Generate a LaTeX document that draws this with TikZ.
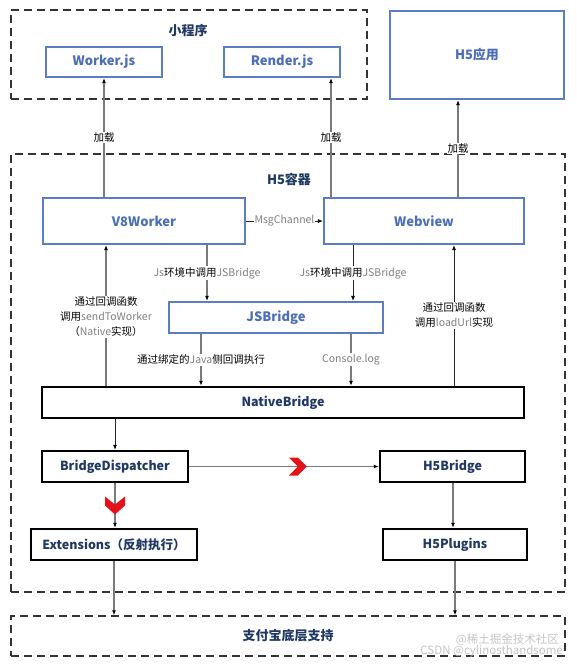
\documentclass[tikz,border=0pt]{standalone}
\usepackage{fontspec}
\setmainfont{Noto Sans CJK SC}
\usetikzlibrary{arrows.meta,calc}
\definecolor{bluebd}{HTML}{5B7DC4}
\definecolor{bluetx}{HTML}{4C6EB8}
\definecolor{navy}{HTML}{1F3864}
\definecolor{lgray}{HTML}{7A7A7A}
\definecolor{ltext}{HTML}{7F7F7F}
\definecolor{chevred}{HTML}{E3131A}
\definecolor{dashc}{HTML}{333333}
\definecolor{wmark}{HTML}{C4C4C4}
\newcommand\gtx[1]{\textcolor{ltext}{#1}}
\begin{document}
\begin{tikzpicture}[x=1pt,y=-1pt,
 bluebox/.style={draw=bluebd, line width=2.2pt, fill=white, text=bluetx, font=\bfseries\fontsize{13}{15}\selectfont, inner sep=0pt},
 blackbox/.style={draw=black, line width=2.4pt, fill=white, text=navy, font=\bfseries\fontsize{12.5}{15}\selectfont, inner sep=0pt},
 dashbox/.style={draw=dashc, line width=1.4pt, dash pattern=on 8pt off 5pt, inner sep=0pt},
 titlelbl/.style={text=navy, font=\bfseries\fontsize{13}{15}\selectfont},
 lbl/.style={fill=white, inner sep=1pt, font=\fontsize{10.5}{15}\selectfont, text=black, align=center},
 conn/.style={draw=lgray, line width=1.3pt, -{Latex[length=5pt,width=4pt,black]}},
 thinconn/.style={draw=black!85, line width=0.8pt, -{Latex[length=5pt,width=4pt,black]}},
 wm/.style={text=wmark, font=\fontsize{11.5}{13}\selectfont, inner sep=0pt},
 chevR/.pic={\fill[chevred] (-9,-9) -- (0,-9) -- (9,0) -- (0,9) -- (-9,9) -- (0,0) -- cycle;},
 chevD/.pic={\fill[chevred] (-10,-9) -- (0,-1) -- (10,-9) -- (10,0) -- (0,9) -- (-10,0) -- cycle;},
]
\useasboundingbox (0,0) rectangle (577,667);

% containers
\node[dashbox, minimum width=356pt, minimum height=89pt] (mini) at (189,54.5) {};
\node[titlelbl] (minit) at (188,31) {小程序};
\node[dashbox, minimum width=554pt, minimum height=438pt] (h5c) at (288,373) {};
\node[titlelbl] (h5ct) at (289,179) {H5容器};
\node[dashbox, minimum width=554pt, minimum height=40pt, text=navy, font=\bfseries\fontsize{13}{15}\selectfont] (alipay) at (288,636) {支付宝底层支持};

% boxes
\node[bluebox, minimum width=116pt, minimum height=30pt] (worker) at (104,62) {Worker.js};
\node[bluebox, minimum width=116pt, minimum height=30pt] (render) at (282,62) {Render.js};
\node[bluebox, minimum width=174pt, minimum height=88pt] (h5app) at (477,55) {H5应用};
\node[bluebox, minimum width=202pt, minimum height=46pt] (v8) at (144,221) {V8Worker};
\node[bluebox, minimum width=200pt, minimum height=46pt] (webview) at (424,221) {Webview};
\node[bluebox, minimum width=214pt, minimum height=31pt] (jsb) at (276,317.5) {JSBridge};
\node[blackbox, minimum width=482pt, minimum height=31pt] (native) at (283,402.5) {NativeBridge};
\node[blackbox, minimum width=146pt, minimum height=31pt] (bd) at (115,466.5) {BridgeDispatcher};
\node[blackbox, minimum width=145pt, minimum height=31pt] (h5b) at (452.5,466.5) {H5Bridge};
\node[blackbox, minimum width=166pt, minimum height=31pt] (ext) at (114,544.5) {Extensions（反射执行）};
\node[blackbox, minimum width=144pt, minimum height=31pt] (h5p) at (455,544.5) {H5Plugins};

% x positions of vertical connectors
\coordinate (xa) at (104,0);
\coordinate (xb) at (331,0);
\coordinate (xc) at (458,0);
\coordinate (xd) at (207,0);
\coordinate (xe) at (353,0);
\coordinate (xf) at (201,0);
\coordinate (xg) at (351,0);
\coordinate (xh) at (106,0);
\coordinate (xi) at (454,0);
\coordinate (xj) at (115,0);
\coordinate (xk) at (453,0);
\coordinate (xl) at (114,0);
\coordinate (xm) at (455,0);

% connectors
\draw[conn] (v8.north -| xa) -- node[lbl, pos=0.5] {加载} (worker.south -| xa);
\draw[conn] (webview.north -| xb) -- node[lbl, pos=0.5] {加载} (render.south -| xb);
\draw[conn] (webview.north -| xc) -- node[lbl, pos=0.5] {加载} (h5app.south -| xc);
\draw[thinconn] (v8.east) -- node[lbl, pos=0.5] {\gtx{MsgChannel}} (webview.west);
\draw[conn] (v8.south -| xd) -- node[lbl, pos=0.5] {\gtx{Js}环境中调用\gtx{JSBridge}} (jsb.north -| xd);
\draw[thinconn] (webview.south -| xe) -- node[lbl, pos=0.5] {\gtx{Js}环境中调用\gtx{JSBridge}} (jsb.north -| xe);
\draw[conn] (jsb.south -| xf) -- node[lbl, pos=0.5] {通过绑定的\gtx{Java}侧回调执行} (native.north -| xf);
\draw[conn] (jsb.south -| xg) -- node[lbl, pos=0.5] {\gtx{Console.log}} (native.north -| xg);
\draw[conn] (native.north -| xh) -- node[lbl, pos=0.49] {通过回调函数\\调用\gtx{sendToWorker}\\（\gtx{Native}实现）} (v8.south -| xh);
\draw[thinconn] (native.north -| xi) -- node[lbl, pos=0.5] {通过回调函数\\调用\gtx{loadUrl}实现} (webview.south -| xi);
\draw[thinconn] (native.south -| xj) -- (bd.north -| xj);
\draw[conn] (bd.east) -- pic[pos=0.573]{chevR} (h5b.west);
\draw[conn] (bd.south -| xj) -- pic[pos=0.5]{chevD} (ext.north -| xj);
\draw[conn] (h5b.south -| xk) -- (h5p.north -| xk);
\draw[conn] (ext.south -| xl) -- (alipay.north -| xl);
\draw[conn] (h5p.south -| xm) -- (alipay.north -| xm);

% watermark
\node[wm, anchor=east] (wm1) at (559,640) {@稀土掘金技术社区};
\node[wm, anchor=east] (wm2) at (563,651) {CSDN @cylinosthandsome};
\end{tikzpicture}
\end{document}
